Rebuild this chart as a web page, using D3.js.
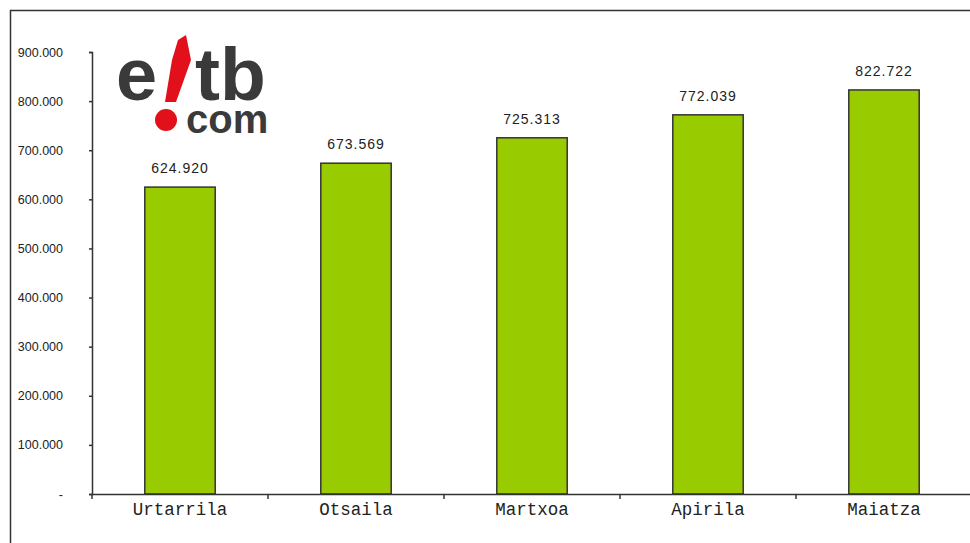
<!DOCTYPE html>
<html>
<head>
<meta charset="utf-8">
<script src="https://cdn.jsdelivr.net/npm/d3@7"></script>
<style>
  html, body { margin: 0; padding: 0; background: #fff; }
  svg { display: block; }
</style>
</head>
<body>
<div class="chartContainer"></div>
<script>
const months = ['Urtarrila', 'Otsaila', 'Martxoa', 'Apirila', 'Maiatza'];
const visits = [624920, 673569, 725313, 772039, 822722];
const yTicks = [0, 100000, 200000, 300000, 400000, 500000, 600000, 700000, 800000, 900000];

const w = 970;
const h = 543;
const barColor = '#99cc00';
const ink = '#333333';

const dotFormat = (v) => v === 0 ? '-' : d3.format(',')(v).replace(/,/g, '.');

const svg = d3.select('.chartContainer')
  .append('svg')
  .attr('width', w)
  .attr('height', h);

// outer frame, runs off the right and bottom edges
svg.append('rect')
  .attr('x', 10.5)
  .attr('y', 10.5)
  .attr('width', w + 20)
  .attr('height', h + 20)
  .attr('fill', 'none')
  .attr('stroke', ink)
  .attr('stroke-width', 1.5);

const xScale = d3.scaleBand()
  .domain(months)
  .range([92, 972])
  .paddingInner(0.6)
  .paddingOuter(0.3);

const yScale = d3.scaleLinear()
  .domain([0, 900000])
  .range([494, 52]);

// bars
svg.selectAll('.bar')
  .data(visits)
  .enter()
  .append('rect')
  .attr('class', 'bar')
  .attr('x', (d, i) => xScale(months[i]))
  .attr('y', (d) => yScale(d))
  .attr('width', xScale.bandwidth())
  .attr('height', (d) => yScale(0) - yScale(d))
  .attr('fill', barColor)
  .attr('stroke', ink)
  .attr('stroke-width', 1.5);

// value labels
svg.selectAll('.val')
  .data(visits)
  .enter()
  .append('text')
  .attr('class', 'val')
  .attr('x', (d, i) => xScale(months[i]) + xScale.bandwidth() / 2)
  .attr('y', (d) => yScale(d) - 14)
  .attr('text-anchor', 'middle')
  .style('font-family', '"Liberation Sans", Arial, sans-serif')
  .style('font-size', '14px')
  .style('letter-spacing', '1px')
  .attr('fill', '#222')
  .text(dotFormat);

// y axis
const yAxis = d3.axisLeft(yScale)
  .tickValues(yTicks)
  .tickSize(3)
  .tickPadding(26)
  .tickFormat(dotFormat);

const yG = svg.append('g')
  .attr('id', 'y-axis')
  .attr('transform', 'translate(92,0)')
  .call(yAxis);
yG.select('.domain').attr('stroke', ink).attr('stroke-width', 1.5);
yG.selectAll('.tick line').attr('stroke', ink).attr('stroke-width', 1.5);
yG.selectAll('.tick text')
  .style('font-family', '"Liberation Sans", Arial, sans-serif')
  .style('font-size', '12.5px')
  .attr('fill', '#222');

// x axis: labels at band centres, ticks at band boundaries
const xAxis = d3.axisBottom(xScale).tickSize(0).tickPadding(9);
const xG = svg.append('g')
  .attr('id', 'x-axis')
  .attr('transform', 'translate(0,494)')
  .call(xAxis);
xG.select('.domain').attr('stroke', ink).attr('stroke-width', 1.5);
xG.selectAll('.tick text')
  .style('font-family', '"Liberation Mono", "Courier New", monospace')
  .style('font-size', '17.5px')
  .attr('fill', '#222');

const step = xScale.step();
const bounds = months.map((m) => xScale(m) - step * xScale.paddingInner() / 2).concat([xScale.range()[1]]);
xG.selectAll('.sep')
  .data(bounds)
  .enter()
  .append('line')
  .attr('class', 'sep')
  .attr('x1', (d) => d)
  .attr('x2', (d) => d)
  .attr('y1', 0)
  .attr('y2', 5)
  .attr('stroke', ink)
  .attr('stroke-width', 1.5);

// e!tb.com logo, one text block plus the red stroke and dot
const logo = svg.append('g').attr('id', 'logo');
const logoText = logo.append('text')
  .style('font-family', '"Liberation Sans", Arial, sans-serif')
  .style('font-weight', 'bold')
  .attr('fill', '#3a3a3a');
logoText.append('tspan')
  .attr('x', 116).attr('y', 100)
  .style('font-size', '74px')
  .text('e');
logoText.append('tspan')
  .attr('x', 195).attr('y', 100)
  .style('font-size', '75px')
  .text('tb');
logoText.append('tspan')
  .attr('x', 186).attr('y', 133)
  .style('font-size', '40px')
  .text('com');
logo.append('path')
  .attr('d', 'M178,40 L186,35 L191,60 L176,102 L165,102 L172,60 Z')
  .attr('fill', '#e2101a');
logo.append('circle')
  .attr('cx', 166)
  .attr('cy', 120)
  .attr('r', 11)
  .attr('fill', '#e2101a');
</script>
</body>
</html>
